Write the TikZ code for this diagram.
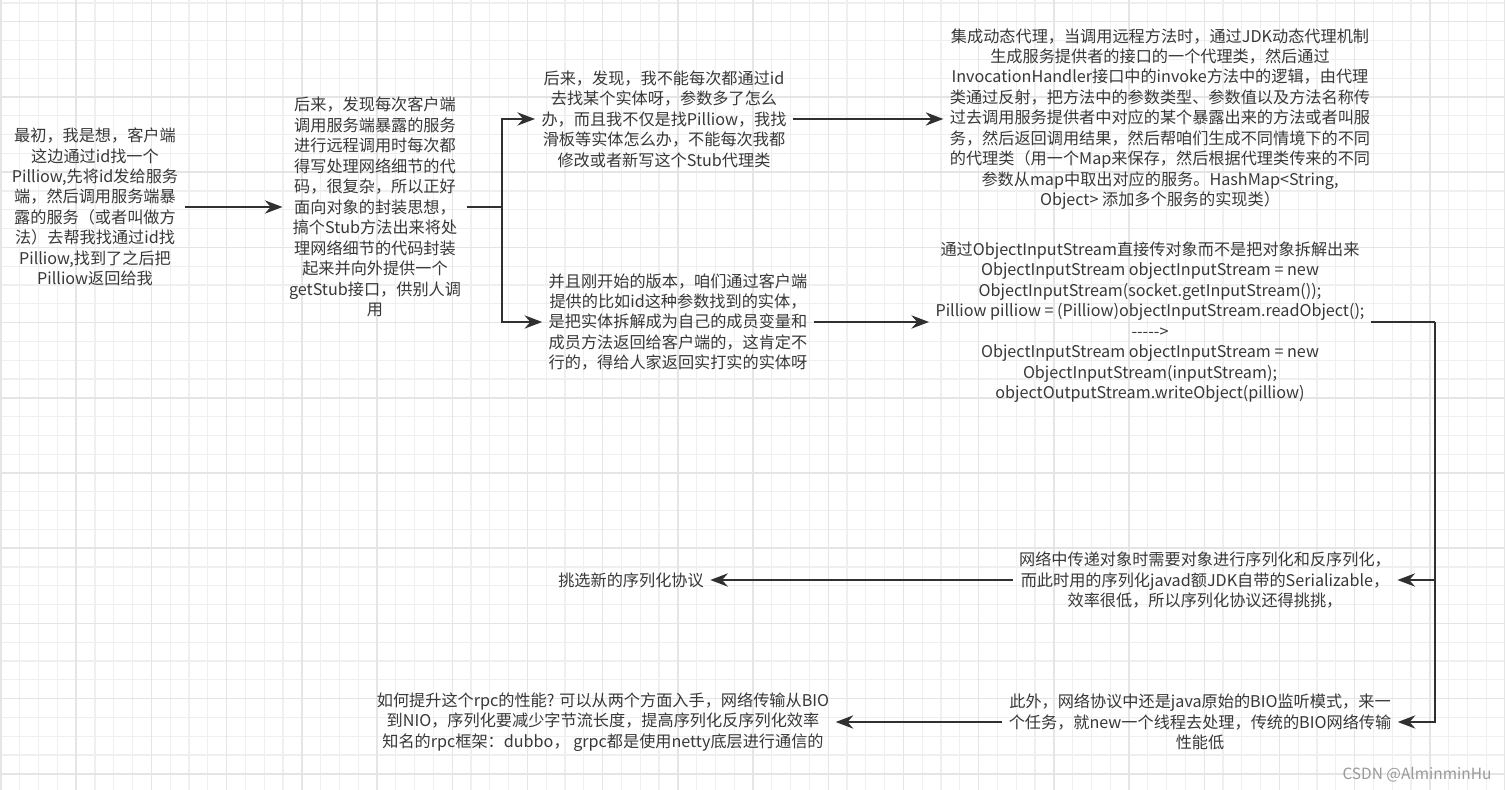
\documentclass[tikz,border=0pt]{standalone}
\usepackage{fontspec}
\setmainfont{Noto Sans CJK SC}
\usetikzlibrary{arrows.meta}
\definecolor{txt}{HTML}{383838}
\definecolor{wire}{HTML}{303030}
\definecolor{gridminor}{HTML}{EFEFEF}
\definecolor{gridmajor}{HTML}{E5E5E5}
\begin{document}
\begin{tikzpicture}[x=0.02cm, y=-0.02cm, >={Stealth[length=10pt,width=7.5pt]}, line width=1.4pt]
\tikzset{
  note/.style={
    text=txt, inner sep=3pt, align=center,
    font=\fontsize{9.2}{11.65}\selectfont
  },
  wire/.style={draw=wire, line width=1.4pt}
}
\useasboundingbox (0,0) rectangle (1505,790);
\fill[white] (0,0) rectangle (1505,790);
% grid paper
\foreach \i in {0,...,80} {
  \draw[gridminor, line width=0.7pt] ({1+18.8*\i},0) -- ({1+18.8*\i},790);
}
\foreach \j in {0,...,42} {
  \draw[gridminor, line width=0.7pt] (0,{3+18.8*\j}) -- (1505,{3+18.8*\j});
}
\foreach \i in {0,4,...,80} {
  \draw[gridmajor, line width=0.8pt] ({1+18.8*\i},0) -- ({1+18.8*\i},790);
}
\foreach \j in {1,5,...,41} {
  \draw[gridmajor, line width=0.8pt] (0,{3+18.8*\j}) -- (1505,{3+18.8*\j});
}

\node[note] (start) at (95, 207) {最初，我是想，客户端\\这边通过id找一个\\Pilliow,先将id发给服务\\端，然后调用服务端暴\\露的服务（或者叫做方\\法）去帮我找通过id找\\Pilliow,找到了之后把\\Pilliow返回给我};
\node[note] (stub) at (375, 207) {后来，发现每次客户端\\调用服务端暴露的服务\\进行远程调用时每次都\\得写处理网络细节的代\\码，很复杂，所以正好\\面向对象的封装思想，\\搞个Stub方法出来将处\\理网络细节的代码封装\\起来并向外提供一个\\getStub接口，供别人调\\用};
\node[note] (generic) at (664, 119) {后来，发现，我不能每次都通过id\\去找某个实体呀，参数多了怎么\\办，而且我不仅是找Pilliow，我找\\滑板等实体怎么办，不能每次我都\\修改或者新写这个Stub代理类};
\node[note] (entity) at (678, 322) {并且刚开始的版本，咱们通过客户端\\提供的比如id这种参数找到的实体，\\是把实体拆解成为自己的成员变量和\\成员方法返回给客户端的，这肯定不\\行的，得给人家返回实打实的实体呀};
\node[note] (proxy) at (1160, 119) {集成动态代理，当调用远程方法时，通过JDK动态代理机制\\生成服务提供者的接口的一个代理类，然后通过\\InvocationHandler接口中的invoke方法中的逻辑，由代理\\类通过反射，把方法中的参数类型、参数值以及方法名称传\\过去调用服务提供者中对应的某个暴露出来的方法或者叫服\\务，然后返回调用结果，然后帮咱们生成不同情境下的不同\\的代理类（用一个Map来保存，然后根据代理类传来的不同\\参数从map中取出对应的服务。HashMap<String,\\Object> 添加多个服务的实现类）};
\node[note] (stream) at (1150, 322) {通过ObjectInputStream直接传对象而不是把对象拆解出来\\ObjectInputStream objectInputStream = new\\ObjectInputStream(socket.getInputStream());\\Pilliow pilliow = (Pilliow)objectInputStream.readObject();\\{-}{-}{-}{-}{-}>\\ObjectInputStream objectInputStream = new\\ObjectInputStream(inputStream);\\objectOutputStream.writeObject(pilliow)};
\node[note] (serial) at (1205, 580) {网络中传递对象时需要对象进行序列化和反序列化，\\而此时用的序列化javad额JDK自带的Serializable，\\效率很低，所以序列化协议还得挑挑，};
\node[note] (pick) at (631, 580) {挑选新的序列化协议};
\node[note] (bio) at (1200, 722) {此外，网络协议中还是java原始的BIO监听模式，来一\\个任务，就new一个线程去处理，传统的BIO网络传输\\性能低};
\node[note] (perf) at (603, 722) {如何提升这个rpc的性能? 可以从两个方面入手，网络传输从BIO\\到NIO，序列化要减少字节流长度，提高序列化反序列化效率\\知名的rpc框架：dubbo， grpc都是使用netty底层进行通信的};
\node[text=black!40, font=\fontsize{8.8}{10}\selectfont] (mark) at (1417, 775) {CSDN @AlminminHu};

\coordinate (fork) at (502, 207);
\coordinate (trunk) at (1435, 322);

\draw[wire, ->] (start) -- (stub);
\draw[wire] (stub) -- (fork);
\draw[wire, ->] (fork) |- (generic.west);
\draw[wire, ->] (fork) |- (entity.west);
\draw[wire, ->] (generic) -- (proxy.west |- generic);
\draw[wire, ->] (entity) -- (stream);
\draw[wire] (stream) -- (trunk);
\draw[wire, ->] (trunk) |- (serial.east);
\draw[wire, ->] (trunk) |- (bio.east);
\draw[wire, ->] (serial) -- (pick);
\draw[wire, ->] (bio) -- (perf);
\end{tikzpicture}
\end{document}
